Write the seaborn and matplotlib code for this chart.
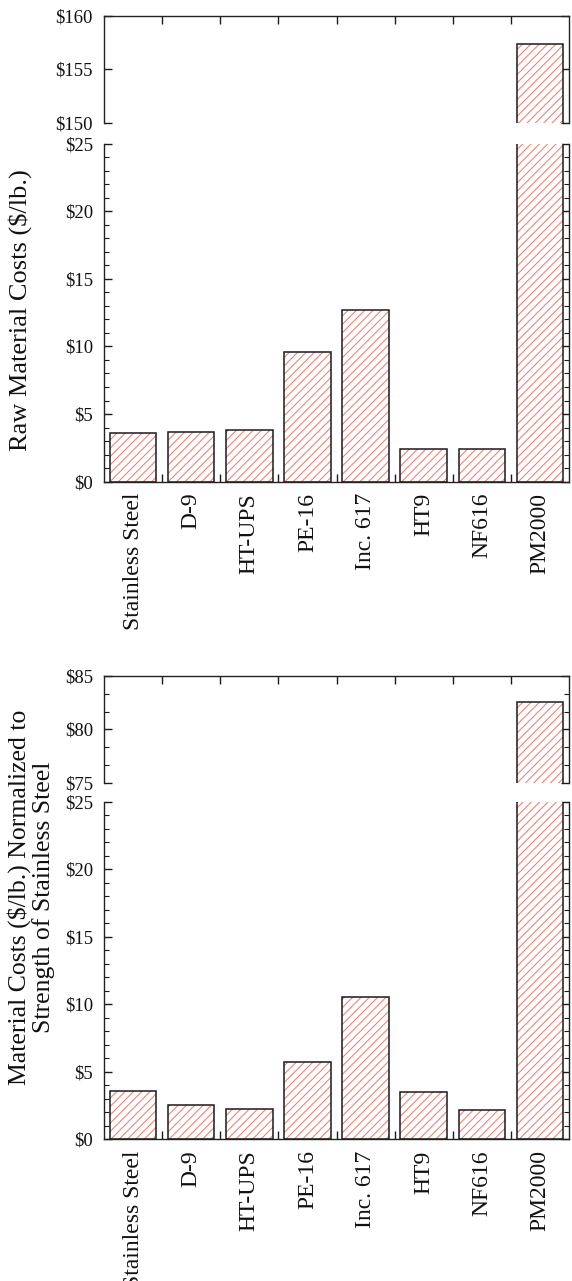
import matplotlib
matplotlib.use("Agg")
import matplotlib.pyplot as plt
import seaborn as sns
import pandas as pd
import numpy as np
from matplotlib.ticker import FixedLocator, MultipleLocator, NullLocator

# ---------------- data ----------------
materials = ["Stainless Steel", "D-9", "HT-UPS", "PE-16", "Inc. 617", "HT9", "NF616", "PM2000"]
raw_cost = [3.63, 3.70, 3.80, 9.59, 12.70, 2.43, 2.43, 157.4]
norm_cost = [3.58, 2.52, 2.22, 5.73, 10.56, 3.48, 2.15, 82.6]

low_ticks = [0, 5, 10, 15, 20, 25]
low_labels = ["$0", "$5", "$10", "$15", "$20", "$25"]
raw_high_ticks = [150, 155, 160]
raw_high_labels = ["$150", "$155", "$160"]
norm_high_ticks = [75, 80, 85]
norm_high_labels = ["$75", "$80", "$85"]

raw_ylabel = "Raw Material Costs ($/lb.)"
norm_ylabel = "Material Costs ($/lb.) Normalized to\nStrength of Stainless Steel"

# ---------------- style ----------------
sns.set_style("white")
plt.rcParams["font.family"] = ["Liberation Serif", "DejaVu Serif"]
plt.rcParams["hatch.linewidth"] = 0.8
plt.rcParams["axes.linewidth"] = 1.0
plt.rcParams["axes.edgecolor"] = "#222222"

HATCH = "#f2827a"
EDGE = "#1a1a1a"

fig = plt.figure(figsize=(5.72, 12.81), dpi=100)

L = 104 / 572
W = (569 - 104) / 572
H = 1281.0


def frac(top_px, bot_px):
    return [L, 1 - bot_px / H, W, (bot_px - top_px) / H]


ax_raw_hi = fig.add_axes(frac(15.7, 122.7))
ax_raw_lo = fig.add_axes(frac(143.5, 481.7))
ax_norm_hi = fig.add_axes(frac(675.7, 783.3))
ax_norm_lo = fig.add_axes(frac(801.8, 1139.3))


def draw_bars(ax, values):
    df = pd.DataFrame({"material": materials, "cost": values})
    sns.barplot(data=df, x="material", y="cost", ax=ax, color="white",
                edgecolor=HATCH, linewidth=0, hatch="////", width=0.8,
                saturation=1, errorbar=None)
    sns.barplot(data=df, x="material", y="cost", ax=ax, fill=False,
                color=EDGE, edgecolor=EDGE, linewidth=1.1, width=0.8,
                errorbar=None)
    ax.set_xlabel("")
    ax.set_ylabel("")
    ax.set_xlim(-0.5, len(materials) - 0.5)


boundaries = np.arange(0.5, len(materials) - 1, 1.0)


def style_y(ax):
    ax.tick_params(axis="y", which="both", direction="in", left=True,
                   right=True, color=EDGE, labelsize=13.5, pad=8,
                   labelcolor="#111111")
    ax.tick_params(axis="y", which="major", length=6, width=1)
    ax.tick_params(axis="y", which="minor", length=3.5, width=0.8)


def style_hi(ax, ticks, labels, minor_step):
    ax.set_ylim(ticks[0], ticks[-1])
    ax.set_yticks(ticks, labels)
    if minor_step:
        ax.yaxis.set_minor_locator(MultipleLocator(minor_step))
    else:
        ax.yaxis.set_minor_locator(NullLocator())
    ax.spines["bottom"].set_visible(False)
    ax.set_xticks([])
    ax.xaxis.set_minor_locator(FixedLocator(boundaries))
    ax.tick_params(axis="x", which="minor", direction="in", top=True,
                   bottom=False, length=6, width=1, color=EDGE)
    style_y(ax)


def style_lo(ax):
    ax.set_ylim(low_ticks[0], low_ticks[-1])
    ax.set_yticks(low_ticks, low_labels)
    ax.yaxis.set_minor_locator(MultipleLocator(1))
    ax.spines["top"].set_visible(False)
    ax.set_xticks(range(len(materials)), materials)
    ax.xaxis.set_minor_locator(FixedLocator(boundaries))
    ax.tick_params(axis="x", which="major", length=0, rotation=90,
                   labelsize=17, pad=8, labelcolor="#111111")
    ax.tick_params(axis="x", which="minor", direction="in", bottom=True,
                   top=False, length=6, width=1, color=EDGE)
    style_y(ax)


for ax, vals in [(ax_raw_hi, raw_cost), (ax_raw_lo, raw_cost),
                 (ax_norm_hi, norm_cost), (ax_norm_lo, norm_cost)]:
    draw_bars(ax, vals)

style_hi(ax_raw_hi, raw_high_ticks, raw_high_labels, None)
style_hi(ax_norm_hi, norm_high_ticks, norm_high_labels, 5 / 3)
style_lo(ax_raw_lo)
style_lo(ax_norm_lo)

fig.text(20 / 572, 1 - 310 / H, raw_ylabel, rotation=90, ha="center",
         va="center", fontsize=19, color="#111111")
fig.text(31 / 572, 1 - 897 / H, norm_ylabel, rotation=90, ha="center",
         va="center", fontsize=18.5, linespacing=1.1, multialignment="center",
         color="#111111")

fig.savefig("out.png", dpi=100)
